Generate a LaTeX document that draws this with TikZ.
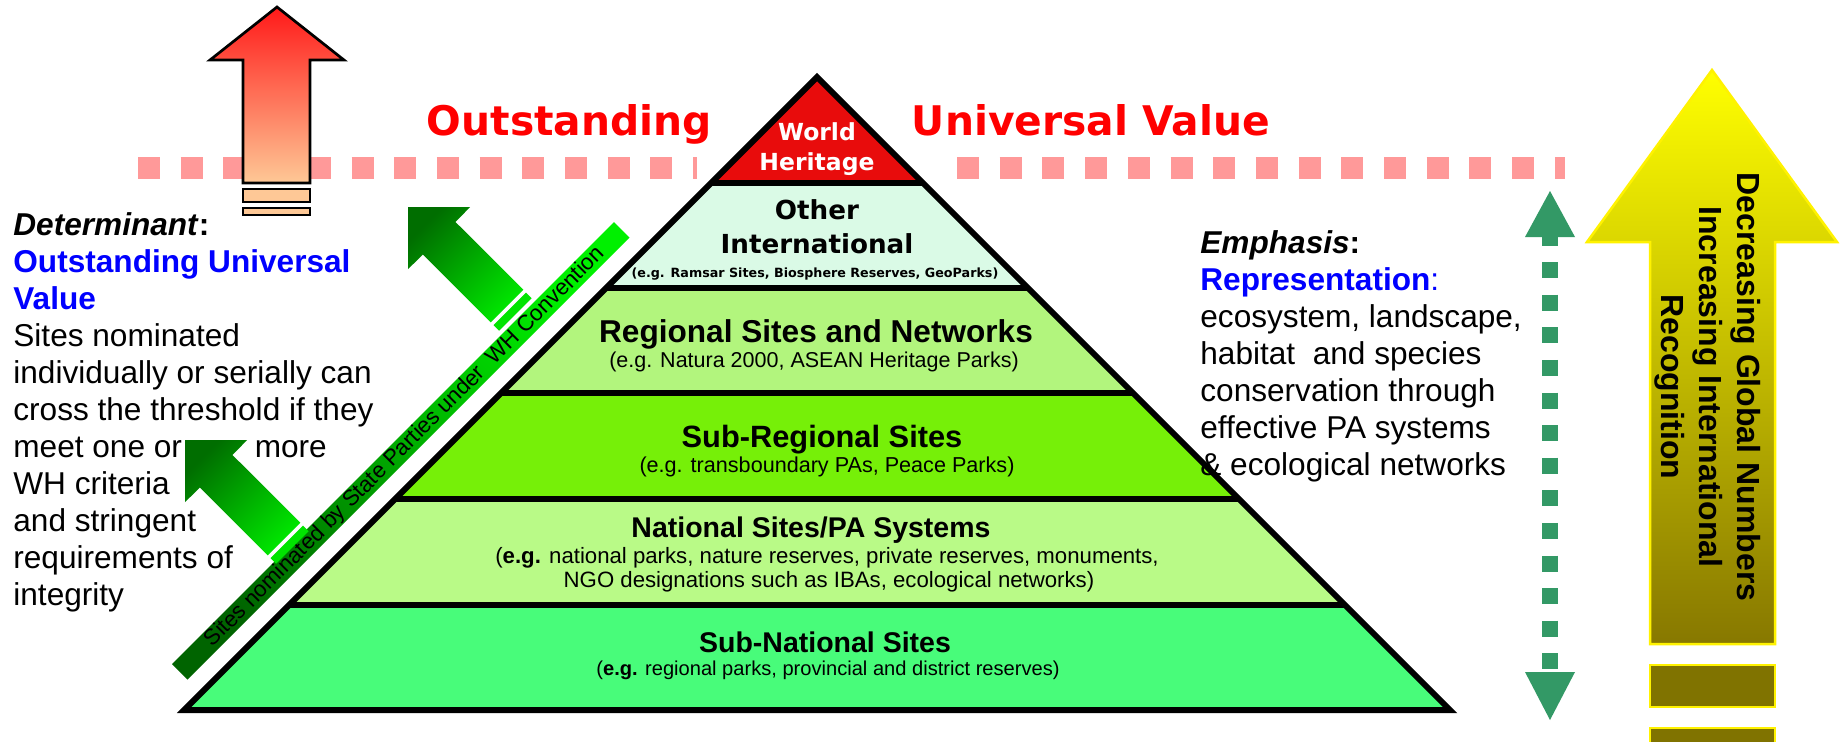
\documentclass[tikz,border=0pt]{standalone}
\usepackage{fontspec}
\setmainfont{Liberation Sans}
\newfontfamily\verdfont{DejaVu Sans}
\usetikzlibrary{positioning}

\definecolor{pinkline}{RGB}{255,153,153}
\definecolor{titlered}{RGB}{255,0,0}
\definecolor{whred}{RGB}{232,12,12}
\definecolor{otherfill}{RGB}{218,250,230}
\definecolor{regfill}{RGB}{178,245,125}
\definecolor{subregfill}{RGB}{118,240,8}
\definecolor{natfill}{RGB}{185,250,135}
\definecolor{subnatfill}{RGB}{72,252,122}
\definecolor{arrowred}{RGB}{255,25,25}
\definecolor{arroworange}{RGB}{254,200,150}
\definecolor{arrowdark}{RGB}{0,110,0}
\definecolor{arrowlight}{RGB}{0,228,0}
\definecolor{stripedark}{RGB}{0,100,0}
\definecolor{stripelight}{RGB}{0,240,0}
\definecolor{dashgreen}{RGB}{51,153,102}
\definecolor{olivebot}{RGB}{135,120,0}
\definecolor{olivebar}{RGB}{128,115,0}
\definecolor{textblue}{RGB}{0,0,255}

\tikzset{
  pinkdash/.style={draw=pinkline, line width=11pt, dash pattern=on 11pt off 10.35pt},
  bandline/.style={draw=black, line width=3pt},
  redtitle/.style={anchor=base, inner sep=0pt, text=titlered, font=\verdfont\bfseries\fontsize{20.4}{20.4}\selectfont},
  toptext/.style={anchor=base, inner sep=0pt, font=\verdfont\bfseries\fontsize{#1}{#1}\selectfont},
  bandtitle/.style={anchor=base, inner sep=0pt, font=\bfseries\fontsize{#1}{#1}\selectfont},
  bandsub/.style={anchor=base, inner sep=0pt, font=\fontsize{#1}{#1}\selectfont},
  sidetext/.style={anchor=north west, inner sep=0pt, align=left, font=\fontsize{15.8}{18.5}\selectfont}
}

\begin{document}
\begin{tikzpicture}[x=0.5pt, y=-0.5pt]
\path [use as bounding box, fill=white] (0,0) rectangle (1843,741);

\draw [pinkdash] (138,168) -- (697,168);
\draw [pinkdash] (957,168) -- (1565,168);

\node at (569.5,135) [redtitle] (outst) {Outstanding};
\node at (1091,135) [redtitle] (univ) {Universal Value};

\shadedraw [top color=arrowred, bottom color=arroworange, line width=1.35pt] (277,7) -- (344,60) -- (310,60) -- (310,183) -- (243,183) -- (243,60) -- (210,60) -- cycle;
\filldraw [fill=arroworange, line width=1.35pt] (243,189) rectangle (310,202);
\filldraw [fill=arroworange, line width=1.35pt] (243,208) rectangle (310,215);

% pyramid
\coordinate (apex) at (817,77);
\coordinate (baseL) at (184,710);
\coordinate (baseR) at (1450,710);
\foreach \ya/\yb/\col in {77/183/whred, 183/288/otherfill, 288/393/regfill, 393/499/subregfill, 499/605/natfill, 605/710/subnatfill}
  \fill [\col] ({894-\ya},\ya) -- ({740+\ya},\ya) -- ({740+\yb},\yb) -- ({894-\yb},\yb) -- cycle;
\foreach \y in {183,288,393,499,605}
  \draw [bandline] ({894-\y},\y) -- ({740+\y},\y);
\draw [bandline] (apex) -- (baseL) -- (baseR) -- cycle;

\node at (817,140) [toptext=11.75, text=white] (world) {World};
\node at (817,170) [toptext=11.75, text=white] (heritage) {Heritage};
\node at (817,219) [toptext=13.1] (other) {Other};
\node at (817,253) [toptext=13.1] (intl) {International};
\node at (815,277) [toptext=6.35] (ramsar) {(e.g. Ramsar Sites, Biosphere Reserves, GeoParks)};

\node at (816,342) [bandtitle=15.8] (regional) {Regional Sites and Networks};
\node at (814,367) [bandsub=10.75] (regionalsub) {(e.g. Natura 2000, ASEAN Heritage Parks)};
\node at (822,447) [bandtitle=15.4] (subreg) {Sub-Regional Sites};
\node at (827,472) [bandsub=10.8] (subregsub) {(e.g. transboundary PAs, Peace Parks)};
\node at (811,537) [bandtitle=14.25] (national) {National Sites/PA Systems};
\node at (827,563) [bandsub=11.1] (nationalsub) {(\textbf{e.g.} national parks, nature reserves, private reserves, monuments,};
\node at (829,587) [bandsub=11.1] (nationalsubb) {NGO designations such as IBAs, ecological networks)};
\node at (825,652) [bandtitle=14.25] (subnat) {Sub-National Sites};
\node at (828,675) [bandsub=10.05] (subnatsub) {(\textbf{e.g.} regional parks, provincial and district reserves)};

% nomination stripe and arrows
\shade [top color=stripelight, bottom color=stripedark, shading angle=-45] (172,664) -- (187.5,679.5) -- (629.5,237.5) -- (614,222) -- cycle;
\node at (405,447) [rotate=45, inner sep=0pt, font=\fontsize{11.15}{11.15}\selectfont] (nomtext) {Sites nominated by State Parties under\ \ WH Convention};

\foreach \tx/\ty in {408/207, 185/440}{
  \begin{scope}[shift={(\tx,\ty)}]
    \shade [top color=arrowdark, bottom color=arrowlight, shading angle=45] (0,0) -- (62.2,0) -- (47.4,14.9) -- (115.3,82.7) -- (82.7,115.3) -- (14.9,47.4) -- (0,62.2) -- cycle;
    \fill [arrowlight] (118.1,85.6) -- (123.7,91.2) -- (91.2,123.7) -- (85.6,118.1) -- cycle;
  \end{scope}
}

\node at (13,212) [sidetext] (determ) {\textbf{\textit{Determinant}:}\\
  \textcolor{textblue}{\textbf{Outstanding Universal}}\\
  \textcolor{textblue}{\textbf{Value}}\\
  Sites nominated\\
  individually or serially can\\
  cross the threshold if they\\
  meet one or\hspace{32pt} more\\
  WH criteria\\
  and stringent\\
  requirements of\\
  integrity};

\node at (1200,230) [sidetext] (emph) {\textbf{\textit{Emphasis}:}\\
  \textcolor{textblue}{\textbf{Representation}:}\\
  ecosystem, landscape,\\
  habitat\ \ and species\\
  conservation through\\
  effective PA systems\\
  \& ecological networks};

% double arrow
\coordinate (dtop) at (1550,237);
\coordinate (dbot) at (1550,672);
\fill [dashgreen] (1550,191) -- (1575,237) -- (1525,237) -- cycle;
\fill [dashgreen] (1525,672) -- (1575,672) -- (1550,720) -- cycle;
\draw [dashgreen, line width=8pt, dash pattern=on 8pt off 8.3pt, dash phase=3.75pt] (dtop) -- (dbot);

% recognition arrow
\shadedraw [top color=yellow, bottom color=olivebot, draw=yellow, line width=1.25pt] (1712,70) -- (1837,242) -- (1775,242) -- (1775,644) -- (1650,644) -- (1650,242) -- (1587,242) -- cycle;
\filldraw [fill=olivebar, draw=yellow, line width=1.25pt] (1650,665) rectangle (1775,707);
\filldraw [fill=olivebar, draw=yellow, line width=1.25pt] (1650,728) rectangle (1775,750);
\node at (1708,387) [rotate=-90, align=center, inner sep=0pt, font=\bfseries\fontsize{16}{19}\selectfont] (recog) {Decreasing Global Numbers\\Increasing International\\Recognition};

\end{tikzpicture}
\end{document}
